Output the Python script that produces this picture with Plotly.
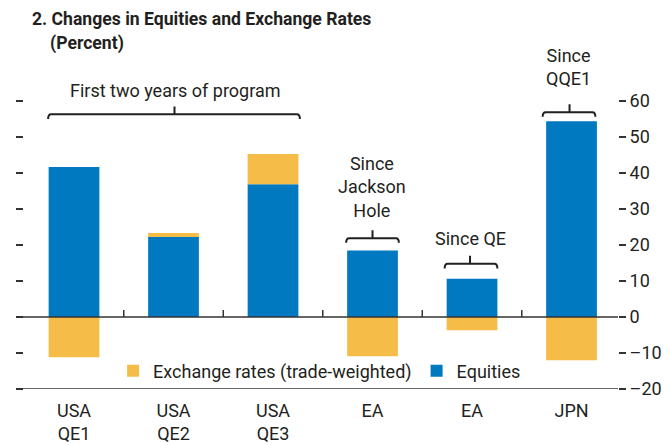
import plotly.graph_objects as go

# ---- data ----
categories = ["USA<br>QE1", "USA<br>QE2", "USA<br>QE3", "EA", "EA", "JPN"]
equities = [41.7, 22.2, 36.9, 18.5, 10.6, 54.4]
exchange = [-11.2, 1.1, 8.4, -10.9, -3.7, -12.0]
y_ticks = [-20, -10, 0, 10, 20, 30, 40, 50, 60]
y_ticktext = ["\u201320", "\u201310", "0", "10", "20", "30", "40", "50", "60"]

FONT = "Roboto, Liberation Sans, sans-serif"
FS = 18
TXT = "#231f20"
AX = "#333333"
BLUE = "#0079c1"
YELLOW = "#f5bc48"

xs = list(range(len(categories)))
XR = [-0.5025, 5.467]
YR = [-20, 60]


def yp(v):
    # data value -> paper fraction (for labels placed above the axis range)
    return (v - YR[0]) / (YR[1] - YR[0])


fig = go.Figure()
fig.add_trace(go.Bar(x=xs, y=equities, name="Equities", marker=dict(color=BLUE, line=dict(width=0)),
                     width=0.51, legendrank=2))
fig.add_trace(go.Bar(x=xs, y=exchange, name="Exchange rates (trade-weighted)",
                     marker=dict(color=YELLOW, line=dict(width=0)), width=0.51, legendrank=1))


def bracket(x0, x1, xc, y, hook=1.3, stem=2.2, r=0.03):
    path = (f"M {x0},{y-hook} Q {x0},{y} {x0+r},{y} L {x1-r},{y} Q {x1},{y} {x1},{y-hook} "
            f"M {xc},{y} L {xc},{y+stem}")
    return dict(type="path", path=path, xref="x", yref="y",
                line=dict(color=TXT, width=2), layer="above")


ext = -7 / 594  # lines start 7 px left of the plot edge, as in the reference
shapes = [
    bracket(-0.26, 2.27, 1.01, 56.3),
    bracket(3 - 0.265, 3 + 0.265, 3, 21.9),
    bracket(4 - 0.275, 4 + 0.255, 3.98, 14.8),
    bracket(5 - 0.29, 5 + 0.24, 4.98, 56.9),
    dict(type="line", xref="paper", yref="y", x0=ext, x1=1, y0=0, y1=0,
         line=dict(color=AX, width=1.5), layer="above"),
    dict(type="line", xref="paper", yref="y", x0=ext, x1=1, y0=YR[0], y1=YR[0],
         line=dict(color=AX, width=1.5), layer="above"),
]
for b in [0.5, 1.5, 2.5, 3.5, 4.5]:
    shapes.append(dict(type="line", xref="x", yref="y", x0=b, x1=b, y0=0, y1=1.95,
                       line=dict(color=AX, width=1.5), layer="above"))

annots = [
    dict(text="First two years of program", x=1.02, y=yp(62.8)),
    dict(text="Since<br>Jackson<br>Hole", x=2.99, y=yp(36.1)),
    dict(text="Since QE", x=3.98, y=yp(21.9)),
    dict(text="Since<br>QQE1", x=4.97, y=yp(69.5)),
]
annotations = [dict(a, xref="x", yref="paper", xanchor="center", yanchor="middle", showarrow=False,
                    font=dict(family=FONT, size=FS, color=TXT)) for a in annots]
annotations += [
    dict(text="<b>2. Changes in Equities and Exchange Rates</b>", xref="paper", yref="paper",
         x=0.0101, y=1.283, xanchor="left", yanchor="middle", showarrow=False,
         font=dict(family=FONT, size=17.6, color=TXT)),
    dict(text="<b>(Percent)</b>", xref="paper", yref="paper",
         x=0.0404, y=1.198, xanchor="left", yanchor="middle", showarrow=False,
         font=dict(family=FONT, size=17.6, color=TXT)),
]

# the page body has an 8 px margin, so the figure is drawn 8 px smaller and shifted
fig.update_layout(
    width=662, height=437,
    margin=dict(l=16, r=52, t=93, b=56, autoexpand=False),
    paper_bgcolor="white", plot_bgcolor="white",
    barmode="relative",
    font=dict(family=FONT, size=FS, color=TXT),
    showlegend=True,
    legend=dict(orientation="h", x=0.15, y=0.0625, xanchor="left", yanchor="middle",
                bgcolor="rgba(0,0,0,0)", font=dict(family=FONT, size=FS, color=TXT),
                itemwidth=30, tracegroupgap=0),
    xaxis=dict(range=XR, tickmode="array", tickvals=xs, ticktext=categories, ticks="",
               showgrid=False, zeroline=False, showline=False, ticklabelstandoff=9,
               automargin=False,
               tickfont=dict(family=FONT, size=FS, color=TXT), fixedrange=True),
    yaxis=dict(range=YR, side="right", tickmode="array", tickvals=y_ticks, ticktext=y_ticktext,
               ticks="outside", ticklen=7, tickwidth=1.5, tickcolor=AX, mirror="ticks",
               showgrid=False, zeroline=False, showline=False, automargin=False,
               tickfont=dict(family=FONT, size=FS, color=TXT), fixedrange=True),
    shapes=shapes,
    annotations=annotations,
)

fig.write_html("out.html")
